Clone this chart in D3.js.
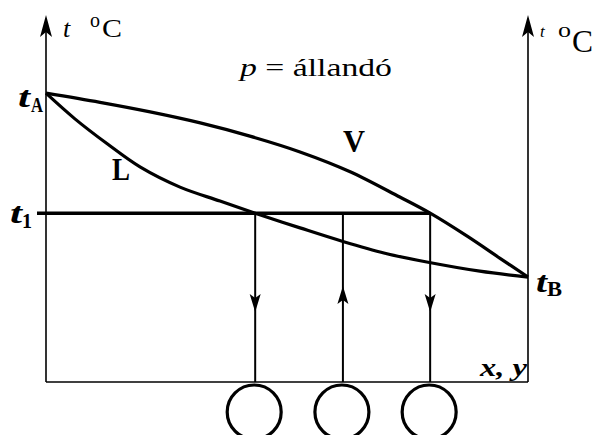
<!DOCTYPE html>
<html><head><meta charset="utf-8">
<script src="https://cdn.jsdelivr.net/npm/d3@7"></script>
<style>body{margin:0;background:#fff}svg{display:block}</style>
</head><body>
<script>
// Data: mole fraction x and temperature t (arbitrary units)
const liquidX = [0, 0.060, 0.127, 0.195, 0.278, 0.361, 0.434, 0.527, 0.616, 0.703, 0.790, 0.900, 1];
const liquidT = [78.7, 71.7, 64.9, 58.6, 53.1, 49.3, 46.0, 42.0, 38.3, 35.1, 32.7, 30.2, 28.6];
const vaporX = [0, 0.112, 0.216, 0.320, 0.423, 0.527, 0.631, 0.734, 0.797, 0.873, 0.942, 1];
const vaporT = [78.7, 76.2, 73.6, 70.6, 67.0, 62.7, 57.3, 50.4, 46.0, 39.8, 33.7, 28.6];
const t1 = 46.0;
const tieX = [0.434, 0.616, 0.797];       // liquid, feed, vapour compositions
const tieDir = ["down", "up", "down"];

const FONT = "'Liberation Serif'";
const W = 592, H = 435;
const svg = d3.select("body").append("svg").attr("width", W).attr("height", H);
const x = d3.scaleLinear().domain([0, 1]).range([46, 528]);
const y = d3.scaleLinear().domain([0, 100]).range([382, 15]);

function arrow(cx, tipY, dir, w, len, notch) {
  const s = dir === "up" ? 1 : -1;
  const p = [[cx, tipY], [cx + w / 2, tipY + s * len], [cx, tipY + s * (len - notch)], [cx - w / 2, tipY + s * len]];
  svg.append("path").attr("d", "M" + p.map(q => q.join(",")).join("L") + "Z").attr("fill", "#000");
}

// axes
svg.append("line").attr("x1", x(0)).attr("x2", x(0)).attr("y1", y(0)).attr("y2", y(100) + 8).attr("stroke", "#000").attr("stroke-width", 1.6);
svg.append("line").attr("x1", x(1)).attr("x2", x(1)).attr("y1", y(0)).attr("y2", y(100) + 8).attr("stroke", "#000").attr("stroke-width", 1.6);
svg.append("line").attr("x1", x(0)).attr("x2", x(1)).attr("y1", y(0)).attr("y2", y(0)).attr("stroke", "#000").attr("stroke-width", 1.6);
arrow(x(0), y(100), "up", 12, 22, 5);
arrow(x(1), y(100), "up", 12, 22, 5);

// curves
const line = d3.line().x(d => x(d[0])).y(d => y(d[1])).curve(d3.curveCatmullRom.alpha(0.5));
svg.append("path").attr("d", line(liquidX.map((v, i) => [v, liquidT[i]]))).attr("fill", "none").attr("stroke", "#000").attr("stroke-width", 3.2);
svg.append("path").attr("d", line(vaporX.map((v, i) => [v, vaporT[i]]))).attr("fill", "none").attr("stroke", "#000").attr("stroke-width", 3.2);

// t1 line
svg.append("line").attr("x1", x(0) - 9).attr("x2", x(tieX[2])).attr("y1", y(t1)).attr("y2", y(t1)).attr("stroke", "#000").attr("stroke-width", 3.5);

// vertical lines with arrows and circles
tieX.forEach((v, i) => {
  svg.append("line").attr("x1", x(v)).attr("x2", x(v)).attr("y1", y(t1)).attr("y2", y(0)).attr("stroke", "#000").attr("stroke-width", 2);
  if (tieDir[i] === "down") arrow(x(v), 312, "down", 11, 18, 4);
  else arrow(x(v), 286, "up", 11, 18, 4);
  svg.append("circle").attr("cx", x(v) - 1).attr("cy", 412).attr("r", 27).attr("fill", "none").attr("stroke", "#000").attr("stroke-width", 3.2);
});

// labels
function txt(tx, ty, str, size, o) {
  o = o || {};
  const t = svg.append("text").attr("x", tx).attr("y", ty).text(str)
    .style("font-family", FONT).style("font-size", size + "px").attr("fill", "#000");
  if (o.i) t.style("font-style", "italic");
  if (o.b) t.style("font-weight", "bold");
  if (o.len) t.attr("textLength", o.len).attr("lengthAdjust", "spacingAndGlyphs");
  return t;
}
// left axis title
txt(63, 37, "t", 26, {i: 1});
txt(90, 27, "o", 20, {len: 10});
txt(102, 37, "C", 25, {len: 20});
// right axis title
txt(540, 37, "t", 17, {i: 1});
txt(558, 37, "o", 20, {len: 13});
txt(572, 52, "C", 32, {len: 21});
// point labels
txt(18, 107, "t", 30, {i: 1, b: 1, len: 12});
txt(31, 112, "A", 20, {b: 1, len: 12});
txt(10, 223, "t", 30, {i: 1, b: 1, len: 12});
txt(22, 228, "1", 22, {b: 1, len: 10});
txt(536, 292, "t", 30, {i: 1, b: 1, len: 11});
txt(547, 296, "B", 21, {b: 1, len: 15});
txt(480, 376, "x, y", 26, {i: 1, b: 1, len: 47});
txt(343, 152, "V", 32, {b: 1, len: 22});
txt(112, 180, "L", 31, {b: 1, len: 18});
// pressure note
const pt = svg.append("text").attr("x", 240).attr("y", 76).style("font-family", FONT).style("font-size", "26px")
  .attr("fill", "#000").attr("textLength", 152).attr("lengthAdjust", "spacingAndGlyphs");
pt.append("tspan").text("p").style("font-style", "italic");
pt.append("tspan").text(" = állandó");
</script>
</body></html>
